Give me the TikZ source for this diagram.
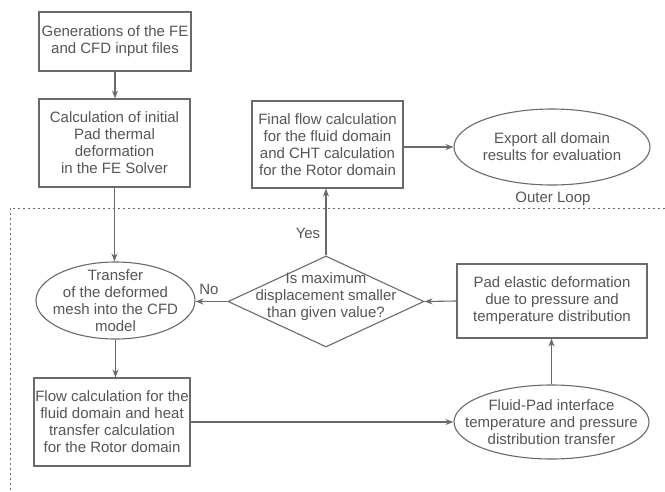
\documentclass[tikz,border=0pt]{standalone}
\usepackage{fontspec}
\setmainfont{Liberation Sans}
\usetikzlibrary{shapes.geometric,arrows.meta}
\definecolor{ln}{HTML}{6A6A6A}
\definecolor{tx}{HTML}{555555}
\tikzset{
  base/.style={draw=ln, line width=1.1pt, text=tx, align=center, inner sep=0pt,
    font=\fontsize{15pt}{17pt}\selectfont},
  rbox/.style={base, rectangle},
  ebox/.style={draw=ln, line width=1.1pt, ellipse, inner sep=0pt},
  dbox/.style={draw=ln, line width=1.1pt, diamond, inner sep=0pt},
  ttext/.style={text=tx, align=center, inner sep=0pt, font=\fontsize{15pt}{17pt}\selectfont},
  arr/.style={draw=ln, line width=1.1pt, -{Stealth[length=8pt,width=6pt]}},
  loopline/.style={draw=ln, line width=1pt, dash pattern=on 2pt off 3pt}
}
\begin{document}
\begin{tikzpicture}[x=1pt,y=-1pt]
\useasboundingbox (0,0) rectangle (665,491);
\node[rbox, minimum width=152pt, minimum height=59pt] (gen) at (115,41.5) {Generations of the FE\\and CFD input files};
\node[rbox, minimum width=151pt, minimum height=88pt] (calc) at (114.5,143) {Calculation of initial\\Pad thermal\\deformation\\in the FE Solver};
\node[rbox, minimum width=151pt, minimum height=87pt] (final) at (327.5,144.5) {Final flow calculation\\for the fluid domain\\and CHT calculation\\for the Rotor domain};
\node[ebox, minimum width=196pt, minimum height=76pt] (export) at (552,147) {};
\node[ttext] (exporttext) at (552,147) {Export all domain\\results for evaluation};
\node[ebox, minimum width=159pt, minimum height=77pt] (transfer) at (115.5,300.5) {};
\node[ttext] (transfertext) at (115.5,300.5) {Transfer\\of the deformed\\mesh into the CFD\\model};
\node[dbox, minimum width=196pt, minimum height=91pt] (dec) at (326,301.5) {};
\node[ttext] (dectext) at (326,297) {Is maximum\\displacement smaller\\than given value?};
\node[rbox, minimum width=190pt, minimum height=74pt] (pad) at (552,301) {Pad elastic deformation\\due to pressure and\\temperature distribution};
\node[ebox, minimum width=195pt, minimum height=74pt] (fluid) at (551.5,422) {};
\node[ttext] (fluidtext) at (551.5,422) {Fluid-Pad interface\\temperature and pressure\\distribution transfer};
\node[rbox, minimum width=156pt, minimum height=88pt] (flow) at (112,422) {Flow calculation for the\\fluid domain and heat\\transfer calculation\\for the Rotor domain};
\node[ttext] (outer) at (553,199) {Outer Loop};
\node[ttext] (yes) at (308,233) {Yes};
\node[ttext] (no) at (209,289) {No};
\coordinate (lt) at (10,208);
\coordinate (rt) at (665,208);
\coordinate (lb) at (10,491);
\draw[loopline] (rt) -- (lt) -- (lb);
\draw[arr] (gen.south) -- (gen.south |- calc.north);
\draw[arr] (calc.south) -- (calc.south |- transfer.north);
\draw[arr] (transfer.south) -- (transfer.south |- flow.north);
\draw[arr] (flow.east |- fluid.west) -- (fluid.west);
\draw[arr] (fluid.north) -- (fluid.north |- pad.south);
\draw[arr] (pad.west) -- (dec.east);
\draw[arr] (dec.west) -- (dec.west -| transfer.east);
\draw[arr] (dec.north) -- (dec.north |- final.south);
\draw[arr] (final.east |- export.west) -- (export.west);
\end{tikzpicture}
\end{document}
